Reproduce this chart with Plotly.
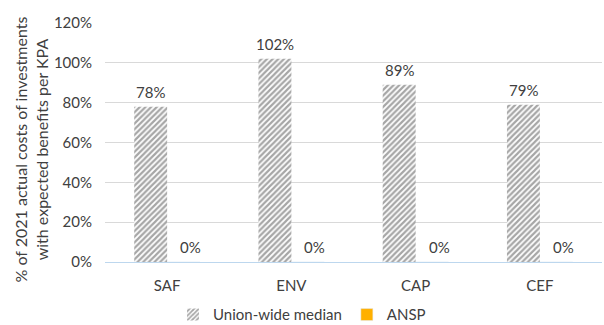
import plotly.graph_objects as go

categories = ["SAF", "ENV", "CAP", "CEF"]
union_median = [78, 102, 89, 79]
ansp = [0, 0, 0, 0]
y_ticks = [0, 20, 40, 60, 80, 100, 120]
y_tick_labels = ["0%", "20%", "40%", "60%", "80%", "100%", "120%"]
y_title = "% of 2021 actual costs of investments<br>with expected benefits per KPA"

font_family = "Lato, Open Sans, sans-serif"
text_color = "#404040"
fs = 15

fig = go.Figure()
fig.add_trace(go.Bar(
    x=categories, y=union_median, name="Union-wide median",
    marker=dict(color="white", line=dict(width=0),
                pattern=dict(shape="/", fgcolor="#4d4d4d", bgcolor="white",
                             size=4, solidity=0.55)),
))
fig.add_trace(go.Bar(
    x=categories, y=ansp, name="ANSP",
    marker=dict(color="#FFB000"),
))

for c, v in zip(categories, union_median):
    fig.add_annotation(x=c, y=v, text=f"{v}%", showarrow=False, xshift=-16.5,
                       yshift=4, yanchor="bottom", font=dict(size=fs, color=text_color))
for c, v in zip(categories, ansp):
    fig.add_annotation(x=c, y=v, text=f"{v}%", showarrow=False, xshift=23.5,
                       yshift=4, yanchor="bottom", font=dict(size=fs, color=text_color))

fig.add_annotation(
    text=y_title, xref="paper", yref="paper", x=-0.105, y=0.47,
    xanchor="right", yanchor="middle", textangle=-90, showarrow=False,
    font=dict(size=16, color=text_color), align="center",
)

fig.update_layout(
    width=604, height=325,
    margin=dict(l=105, r=2, t=23, b=63, autoexpand=False),
    paper_bgcolor="white", plot_bgcolor="white",
    barmode="group", bargap=0.47, bargroupgap=0,
    font=dict(family=font_family, color=text_color, size=fs),
    showlegend=True,
    legend=dict(orientation="h", xref="container", x=0.5, xanchor="center",
                y=-0.152, yanchor="top",
                font=dict(size=fs, color=text_color), itemwidth=30,
                traceorder="normal"),
    xaxis=dict(showline=False, ticks="", automargin=False, ticklabelstandoff=13,
               tickfont=dict(size=fs, color=text_color)),
    yaxis=dict(range=[0, 120], tickvals=y_ticks, ticktext=y_tick_labels,
               showgrid=True, gridcolor="#d9d9d9", gridwidth=1,
               zeroline=True, zerolinecolor="#bdd7ee", zerolinewidth=1,
               automargin=False, ticklabelstandoff=12,
               tickfont=dict(size=fs, color=text_color), ticks=""),
)

fig.write_html("out.html", config={"displayModeBar": False},
               post_script="document.body.style.margin='0';")
